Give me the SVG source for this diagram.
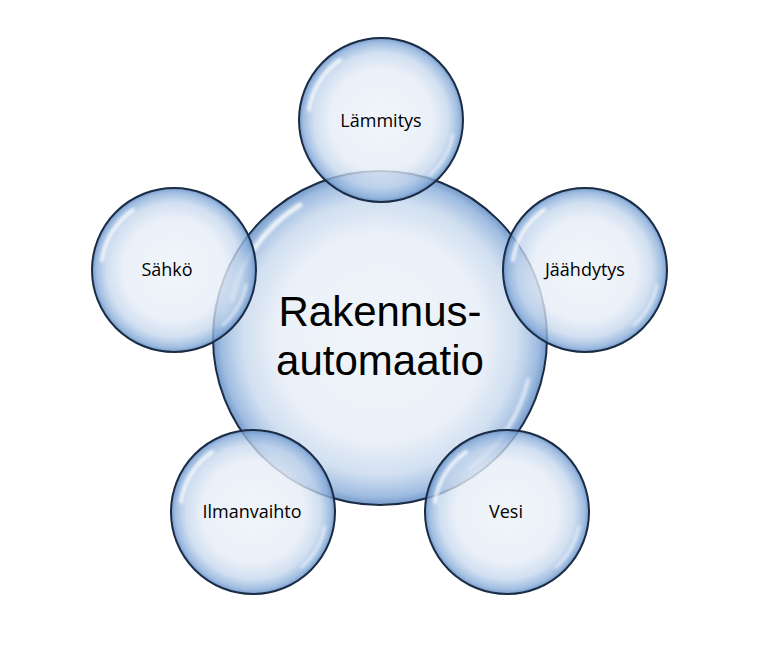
<svg xmlns="http://www.w3.org/2000/svg" width="763" height="667" viewBox="0 0 763 667">
<style>
.bub{fill:url(#g);stroke:#1b2c45;stroke-width:2}
.hl{fill:none;stroke:#ffffff;stroke-linecap:round}
.t{font-family:"Open Sans","Liberation Sans",sans-serif;fill:#000;text-anchor:middle}
.s{font-size:18px}
.b{font-family:"Liberation Sans","Open Sans",sans-serif;font-size:42px}
</style>
<defs>
<radialGradient id="g" cx="0.5" cy="0.5" r="0.5">
<stop offset="0" stop-color="#eef3fa" stop-opacity="0.82"/>
<stop offset="0.62" stop-color="#e6edf7" stop-opacity="0.8"/>
<stop offset="0.82" stop-color="#c2d5ec" stop-opacity="0.75"/>
<stop offset="0.95" stop-color="#86abd9" stop-opacity="0.8"/>
<stop offset="1" stop-color="#5d88c0" stop-opacity="0.85"/>
</radialGradient>
<filter id="bl" x="-20%" y="-20%" width="140%" height="140%"><feGaussianBlur stdDeviation="1.5"/></filter>
</defs>
<rect width="763" height="667" fill="#fff"/>
<g id="center">
<circle class="bub" cx="380" cy="338" r="167"/>
<path class="hl" d="M232,300 A150,150 0 0 1 300,205" stroke-width="5" opacity="0.8" filter="url(#bl)"/>
<path class="hl" d="M528,380 A150,150 0 0 1 470,468" stroke-width="4" opacity="0.6" filter="url(#bl)"/>
<text class="t b" x="380" y="326">Rakennus-</text>
<text class="t b" x="380" y="375">automaatio</text>
</g>
<g id="lammitys">
<circle class="bub" cx="381" cy="120" r="82"/>
<path class="hl" d="M309,110 A73,73 0 0 1 340,60" stroke-width="4" opacity="0.8" filter="url(#bl)"/>
<path class="hl" d="M453,135 A73,73 0 0 1 430,175" stroke-width="3" opacity="0.6" filter="url(#bl)"/>
<text class="t s" x="381" y="127">Lämmitys</text>
</g>
<g id="jaahdytys">
<circle class="bub" cx="585" cy="270" r="82"/>
<path class="hl" d="M513,260 A73,73 0 0 1 544,210" stroke-width="4" opacity="0.8" filter="url(#bl)"/>
<path class="hl" d="M657,285 A73,73 0 0 1 634,325" stroke-width="3" opacity="0.6" filter="url(#bl)"/>
<text class="t s" x="585" y="276">Jäähdytys</text>
</g>
<g id="sahko">
<circle class="bub" cx="174" cy="270" r="82"/>
<path class="hl" d="M102,260 A73,73 0 0 1 133,210" stroke-width="4" opacity="0.8" filter="url(#bl)"/>
<path class="hl" d="M246,285 A73,73 0 0 1 223,325" stroke-width="3" opacity="0.6" filter="url(#bl)"/>
<text class="t s" x="167" y="276">Sähkö</text>
</g>
<g id="ilmanvaihto">
<circle class="bub" cx="253" cy="512" r="82"/>
<path class="hl" d="M181,502 A73,73 0 0 1 212,452" stroke-width="4" opacity="0.8" filter="url(#bl)"/>
<path class="hl" d="M325,527 A73,73 0 0 1 302,567" stroke-width="3" opacity="0.6" filter="url(#bl)"/>
<text class="t s" x="252" y="518">Ilmanvaihto</text>
</g>
<g id="vesi">
<circle class="bub" cx="507" cy="512" r="82"/>
<path class="hl" d="M435,502 A73,73 0 0 1 466,452" stroke-width="4" opacity="0.8" filter="url(#bl)"/>
<path class="hl" d="M579,527 A73,73 0 0 1 556,567" stroke-width="3" opacity="0.6" filter="url(#bl)"/>
<text class="t s" x="506" y="518">Vesi</text>
</g>
<g id="connectors"/>
</svg>
